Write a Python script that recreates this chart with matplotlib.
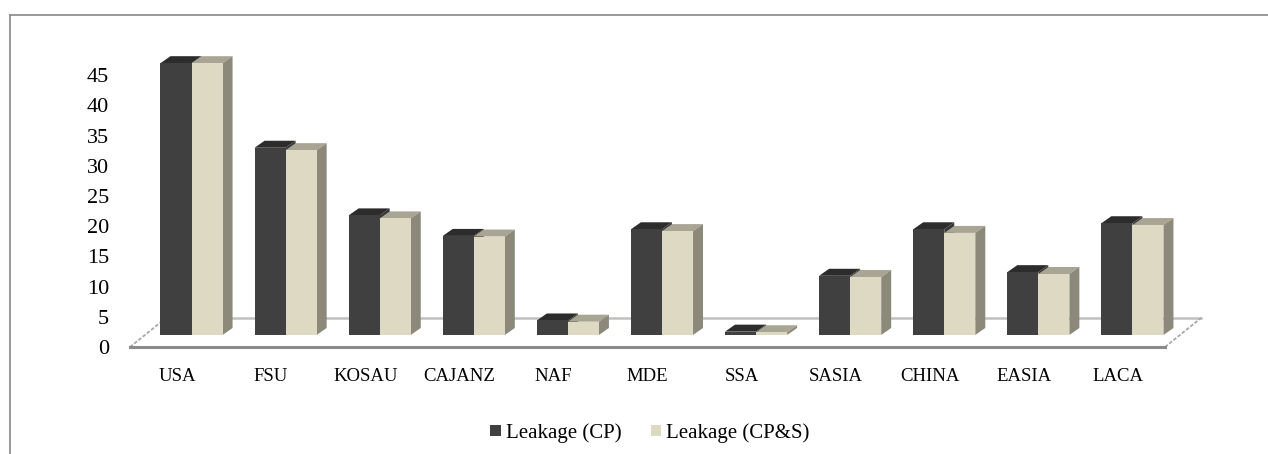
import matplotlib
matplotlib.use("Agg")
import matplotlib.pyplot as plt
from matplotlib.patches import Polygon, Patch
from matplotlib.lines import Line2D

regions = ["USA", "FSU", "KOSAU", "CAJANZ", "NAF", "MDE", "SSA",
           "SASIA", "CHINA", "EASIA", "LACA"]
leak_cp = [45.0, 31.0, 19.8, 16.4, 2.4, 17.5, 0.55, 9.8, 17.5, 10.4, 18.5]
leak_cps = [45.0, 30.6, 19.3, 16.3, 2.2, 17.2, 0.45, 9.6, 16.9, 10.1, 18.2]
series_names = ["Leakage (CP)", "Leakage (CP&S)"]

# face colours: front, top, side
DARK = ("#404040", "#2c2c2c", "#363636")
TAN = ("#ddd9c3", "#a9a594", "#8c897a")

plt.rcParams["font.family"] = ["Liberation Serif", "DejaVu Serif"]

W, H = 1268, 454
fig = plt.figure(figsize=(W / 100, H / 100), dpi=100)
# axes: left edge = front-left floor corner, bottom = front floor edge
ax = fig.add_axes([130 / W, (H - 347) / H, (1165 - 130) / W, (347 - 40) / H])
ax.set_xlim(-0.5, len(regions) - 0.5)
ax.set_ylim(0, 50.83)
for s in ax.spines.values():
    s.set_visible(False)

# oblique offsets (data units)
floor_dx, floor_dy = 0.383, 4.80     # full floor depth
shift_x, shift_y = 0.154, 1.99       # where bars stand on the floor
bar_dx, bar_dy = 0.106, 1.16         # bar thickness
bw = 0.33

# floor
n = len(regions)
x0, x1 = -0.5, n - 0.5
ax.add_patch(Polygon([(x0, 0), (x1, 0), (x1 + floor_dx, floor_dy),
                      (x0 + floor_dx, floor_dy)], closed=True,
                     facecolor="white", edgecolor="none", clip_on=False, zorder=1))
ax.plot([x0 + floor_dx, x1 + floor_dx], [floor_dy, floor_dy], color="#c0c0c0",
        lw=1.8, clip_on=False, zorder=1.5)
for xx in (x0, x1):
    ax.plot([xx, xx + floor_dx], [0, floor_dy], color="#a8a8a8", lw=1.3,
            ls=(0, (2, 1)), clip_on=False, zorder=1.5)
ax.plot([x0, x1], [0, 0], color="#8a8a8a", lw=2.2, clip_on=False, zorder=1.5)


def bar3d(xl, h, cols):
    xr = xl + bw
    yb, yt = shift_y, shift_y + h
    top = [(xl, yt), (xr, yt), (xr + bar_dx, yt + bar_dy), (xl + bar_dx, yt + bar_dy)]
    side = [(xr, yb), (xr + bar_dx, yb + bar_dy), (xr + bar_dx, yt + bar_dy), (xr, yt)]
    ax.add_patch(Polygon(top, closed=True, facecolor=cols[1], edgecolor="none",
                         clip_on=False, zorder=3))
    ax.add_patch(Polygon(side, closed=True, facecolor=cols[2], edgecolor="none",
                         clip_on=False, zorder=3))
    ax.bar(xl, h, width=bw, bottom=yb, align="edge", color=cols[0],
           edgecolor="none", zorder=3, clip_on=False)


for i in range(n):
    c = i + shift_x
    bar3d(c - bw, leak_cp[i], DARK)
    bar3d(c, leak_cps[i], TAN)

ax.set_yticks(range(0, 50, 5))
ax.set_yticklabels([str(v) for v in range(0, 50, 5)], fontsize=16)
ax.set_xticks(range(n))
ax.set_xticklabels(regions, fontsize=13.5)
ax.tick_params(axis="y", length=0, pad=15)
ax.tick_params(axis="x", length=0, pad=15)

handles = [Patch(facecolor=DARK[0], edgecolor="none"),
           Patch(facecolor=TAN[0], edgecolor="none")]
fig.legend(handles, series_names, loc="center", ncol=2,
           bbox_to_anchor=(650 / W, (H - 433) / H), frameon=False, fontsize=15,
           handlelength=0.5, handleheight=0.5, handletextpad=0.25,
           columnspacing=1.4)

# chart area border (top and left visible)
fig.add_artist(Line2D([10 / W, 1.0], [(H - 15) / H, (H - 15) / H],
                      color="#868686", lw=1.2))
fig.add_artist(Line2D([10 / W, 10 / W], [0, (H - 15) / H],
                      color="#868686", lw=1.2))

fig.savefig("out.png", dpi=100)
